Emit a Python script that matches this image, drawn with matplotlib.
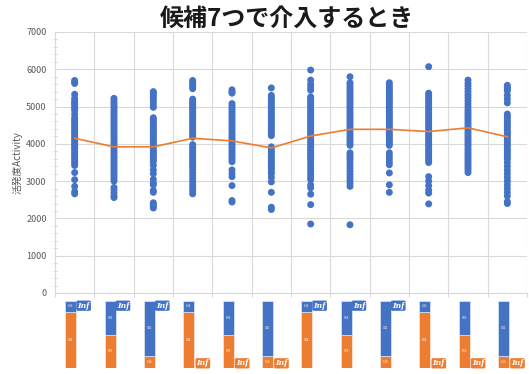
import matplotlib
matplotlib.use("Agg")
import matplotlib.pyplot as plt
import numpy as np

plt.rcParams['font.family'] = ['Noto Sans CJK JP', 'DejaVu Sans']

# activity values per condition
c1 = [5700, 5660, 5620, 5330, 5220, 5150, 5100, 5060, 5000, 4950, 4900, 4800, 4700, 4650, 4600, 4550,
      4480, 4420, 4360, 4300, 4240, 4180, 4120, 4060, 4000, 3950, 3900, 3840, 3780, 3720, 3660, 3600,
      3540, 3480, 3420, 3230, 3040, 2860, 2720, 2660]
c2 = [5220, 5160, 5100, 5040, 4980, 4920, 4860, 4800, 4740, 4680, 4620, 4560, 4500, 4440, 4380, 4320,
      4260, 4200, 4140, 4080, 4020, 3960, 3900, 3840, 3780, 3720, 3660, 3600, 3540, 3480, 3420, 3360,
      3300, 3240, 3180, 3120, 3060, 3000, 2830, 2760, 2680, 2600, 2560]
c3 = [5400, 5360, 5320, 5260, 5200, 5130, 5050, 4980, 4700, 4650, 4600, 4540, 4480, 4420, 4360, 4300,
      4240, 4180, 4120, 4060, 4000, 3940, 3880, 3820, 3760, 3700, 3640, 3580, 3520, 3420, 3300, 3200,
      3050, 2950, 2900, 2750, 2700, 2420, 2370, 2320, 2280]
c4 = [5700, 5650, 5600, 5540, 5480, 5200, 5150, 5100, 5050, 5000, 4950, 4900, 4840, 4780, 4720, 4660,
      4600, 4540, 4480, 4420, 4360, 4300, 4240, 4180, 3980, 3920, 3860, 3800, 3740, 3680, 3620, 3560,
      3500, 3440, 3380, 3300, 3220, 3140, 3060, 2980, 2900, 2820, 2740, 2660]
c5 = [5450, 5400, 5360, 5080, 5020, 4960, 4900, 4840, 4780, 4720, 4660, 4600, 4540, 4480, 4420, 4360,
      4300, 4240, 4180, 4120, 4060, 4000, 3940, 3880, 3820, 3760, 3700, 3640, 3580, 3520, 3300, 3200,
      3120, 2880, 2480, 2440]
c6 = [5500, 5300, 5240, 5180, 5120, 5060, 5000, 4940, 4880, 4820, 4760, 4700, 4640, 4580, 4520, 4460,
      4400, 4340, 4280, 4220, 3920, 3860, 3800, 3740, 3680, 3620, 3560, 3500, 3440, 3380, 3320, 3260,
      3200, 3100, 2980, 2700, 2300, 2240]
c7 = [5980, 5710, 5600, 5520, 5440, 5260, 5200, 5140, 5080, 5020, 4960, 4900, 4840, 4780, 4720, 4660,
      4600, 4540, 4480, 4420, 4360, 4300, 4240, 4180, 4120, 4060, 4000, 3940, 3880, 3820, 3760, 3700,
      3640, 3580, 3500, 3420, 3340, 3260, 3180, 3100, 3040, 2900, 2820, 2650, 2370, 1850]
c8 = [5800, 5640, 5580, 5520, 5460, 5400, 5340, 5280, 5220, 5160, 5100, 5040, 4980, 4920, 4860, 4800,
      4740, 4680, 4620, 4560, 4500, 4440, 4380, 4320, 4260, 4200, 4140, 4080, 4020, 3960, 3760, 3700,
      3640, 3580, 3500, 3420, 3340, 3260, 3180, 3100, 3020, 2940, 2860, 1830]
c9 = [5640, 5580, 5520, 5460, 5400, 5340, 5280, 5220, 5160, 5100, 5040, 4980, 4920, 4860, 4800, 4740,
      4680, 4620, 4560, 4500, 4440, 4380, 4320, 4260, 4200, 4140, 4080, 4020, 3960, 3760, 3680, 3600,
      3520, 3440, 3220, 2900, 2700]
c10 = [6070, 5360, 5300, 5240, 5180, 5120, 5060, 5000, 4940, 4880, 4820, 4760, 4700, 4640, 4580, 4520,
       4460, 4400, 4340, 4280, 4220, 4160, 4100, 4040, 3980, 3920, 3860, 3800, 3740, 3680, 3620, 3560,
       3500, 3120, 3000, 2880, 2760, 2680, 2390]
c11 = [5710, 5630, 5560, 5480, 5400, 5320, 5240, 5160, 5080, 5000, 4920, 4860, 4800, 4740, 4680, 4620,
       4560, 4500, 4440, 4380, 4320, 4260, 4200, 4140, 4080, 4020, 3960, 3900, 3840, 3780, 3720, 3660,
       3600, 3540, 3480, 3420, 3360, 3300, 3230]
c12 = [5570, 5520, 5470, 5420, 5300, 5200, 5100, 4800, 4740, 4680, 4620, 4560, 4500, 4440, 4380, 4320,
       4260, 4200, 4140, 4080, 4020, 3960, 3900, 3840, 3780, 3720, 3660, 3600, 3500, 3400, 3300, 3200,
       3100, 3000, 2900, 2800, 2700, 2600, 2450, 2400]

# average activity per condition (orange line)
means = [4150, 3920, 3920, 4150, 4080, 3890, 4210, 4390, 4390, 4330, 4430, 4190]

# share of the two choices under each condition
share_blue = [0.16, 0.50, 0.82, 0.16, 0.50, 0.82, 0.16, 0.50, 0.82, 0.16, 0.50, 0.82]
share_orange = [1 - b for b in share_blue]
inf_on_top = [True, True, True, False, False, False, True, True, True, False, False, False]

columns = [c1, c2, c3, c4, c5, c6, c7, c8, c9, c10, c11, c12]

BLUE = '#4472C4'
ORANGE = '#ED7D31'
GRID = '#d9d9d9'
TXT = '#595959'

W, H = 529, 374
fig = plt.figure(figsize=(W / 100, H / 100), dpi=100)

# main scatter panel
ax = fig.add_axes([55 / W, 1 - 293 / H, 472 / W, 261 / H])
xpos = np.arange(len(columns)) + 0.5
for x, vals in zip(xpos, columns):
    ax.scatter(np.full(len(vals), x), vals, s=25, color=BLUE, edgecolors='none', zorder=3)
ax.plot(xpos, means, color=ORANGE, lw=1.2, zorder=4)

ax.set_xlim(0, 12)
ax.set_ylim(0, 7000)
ax.set_yticks(np.arange(0, 7001, 1000))
ax.set_yticks(np.arange(0, 7001, 200), minor=True)
ax.set_xticks(np.arange(0, 13))
ax.set_xticklabels([])
ax.grid(True, which='major', color=GRID, lw=0.8, zorder=0)
ax.tick_params(axis='y', which='major', labelsize=6.5, labelcolor=TXT, color=GRID, length=0, pad=6)
ax.tick_params(axis='y', which='minor', color=GRID, length=3, direction='inout', width=0.7)
ax.tick_params(axis='x', color=GRID, length=3, width=0.8)
for side in ['top', 'right']:
    ax.spines[side].set_visible(False)
for side in ['left', 'bottom']:
    ax.spines[side].set_color(GRID)
    ax.spines[side].set_linewidth(0.8)

ax.set_ylabel('活発度Activity', fontsize=7, color=TXT)
ax.yaxis.set_label_coords(-32 / 472, 0.5)

fig.text(287 / W, 1 - 19 / H, '候補7つで介入するとき', fontsize=17.3, fontweight='bold',
         ha='center', va='center', color='#1a1a1a')

# small stacked bars under each condition
bx = fig.add_axes([55 / W, 1 - 368 / H, 472 / W, 67 / H])
bx.set_xlim(0, 12)
bx.set_ylim(0, 1)
bx.axis('off')
bar_x = xpos - 0.1
bx.bar(bar_x, share_orange, width=0.28, color=ORANGE, edgecolor='#f3f3f3', lw=0.4)
bx.bar(bar_x, share_blue, width=0.28, bottom=share_orange, color=BLUE, edgecolor='#f3f3f3', lw=0.4)

for x, b, o, top in zip(bar_x, share_blue, share_orange, inf_on_top):
    bx.text(x, o + b / 2, f'{b:.2f}', fontsize=2, color='white', ha='center', va='center')
    bx.text(x, o / 2, f'{o:.2f}', fontsize=2, color='white', ha='center', va='center')
    if top:
        bx.text(x + 0.17, 0.93, 'Inf', fontsize=5.5, color='white', fontweight='bold',
                fontstyle='italic', family='DejaVu Serif', ha='left', va='center',
                bbox=dict(boxstyle='round,pad=0.15,rounding_size=0.2', fc=BLUE, ec='none'))
    else:
        bx.text(x + 0.2, 0.07, 'Inf', fontsize=5.5, color='white', fontweight='bold',
                fontstyle='italic', family='DejaVu Serif', ha='left', va='center',
                bbox=dict(boxstyle='round,pad=0.15,rounding_size=0.2', fc=ORANGE, ec='none'))

fig.savefig('out.png', dpi=100)
